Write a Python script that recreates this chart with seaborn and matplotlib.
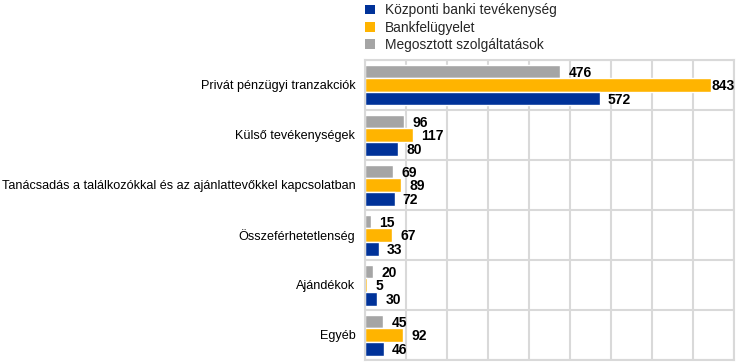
import matplotlib
matplotlib.use("Agg")
import matplotlib.pyplot as plt
import seaborn as sns
import pandas as pd
import numpy as np
from matplotlib.patches import Patch

categories = ["Privát pénzügyi tranzakciók", "Külső tevékenységek",
              "Tanácsadás a találkozókkal és az ajánlattevőkkel kapcsolatban",
              "Összeférhetetlenség", "Ajándékok", "Egyéb"]
series = ["Központi banki tevékenység", "Bankfelügyelet", "Megosztott szolgáltatások"]
kozponti = [572, 80, 72, 33, 30, 46]
bankfel = [843, 117, 89, 67, 5, 92]
megosztott = [476, 96, 69, 15, 20, 45]
colors = {"Központi banki tevékenység": "#003299",
          "Bankfelügyelet": "#FFB400",
          "Megosztott szolgáltatások": "#A5A5A5"}

rows = []
for s, vals in zip(series, [kozponti, bankfel, megosztott]):
    for c, v in zip(categories, vals):
        rows.append({"cat": c, "series": s, "val": v})
df = pd.DataFrame(rows)

sns.set_theme(style="white")
plt.rcParams['font.family'] = ['Liberation Sans', 'DejaVu Sans']

fig = plt.figure(figsize=(7.45, 3.63), dpi=100)
ax = fig.add_axes([365/745, 3/363, 369/745, 300/363])

hue_order = ["Megosztott szolgáltatások", "Bankfelügyelet", "Központi banki tevékenység"]
sns.barplot(data=df, y="cat", x="val", hue="series", hue_order=hue_order,
            order=categories, palette=colors, orient="h", width=0.82,
            ax=ax, legend=False, saturation=1)

xmax = 900
for cont in ax.containers:
    for rect in cont:
        w = rect.get_width()
        yc = rect.get_y() + rect.get_height() / 2
        off = 6 if w < 0.9 * xmax else 0.5
        ax.annotate(f"{int(round(w))}", xy=(w, yc), xytext=(off, -1),
                    textcoords="offset points", ha="left", va="center",
                    fontsize=10, fontweight="bold", color="#000000")

ax.set_xlim(0, xmax)
ax.set_ylim(len(categories) - 0.5, -0.5)
ax.set_xticks(np.arange(0, xmax + 1, 100))
ax.set_xticklabels([])
ax.set_yticks(np.arange(len(categories)))
ax.set_yticks(np.arange(len(categories) + 1) - 0.5, minor=True)
ax.tick_params(axis="y", which="both", length=0, pad=7, labelsize=9.1, labelcolor="#000000")
ax.tick_params(axis="x", length=0)
ax.grid(axis="x", which="major", color="#D9D9D9", linewidth=1.5)
ax.grid(axis="y", which="minor", color="#D9D9D9", linewidth=1.5)
ax.grid(axis="y", which="major", visible=False)
ax.set_axisbelow(True)
for sp in ax.spines.values():
    sp.set_color("#D9D9D9")
    sp.set_linewidth(1.5)
ax.set_xlabel("")
ax.set_ylabel("")

handles = [Patch(facecolor=colors[s], edgecolor="none") for s in series]
fig.legend(handles, series, loc="upper left", bbox_to_anchor=(359/745, 1.006),
           frameon=False, fontsize=9.9, handlelength=0.73, handleheight=0.73,
           handletextpad=0.75, labelspacing=0.24, borderaxespad=0.0)

fig.savefig("out.png", dpi=100)
